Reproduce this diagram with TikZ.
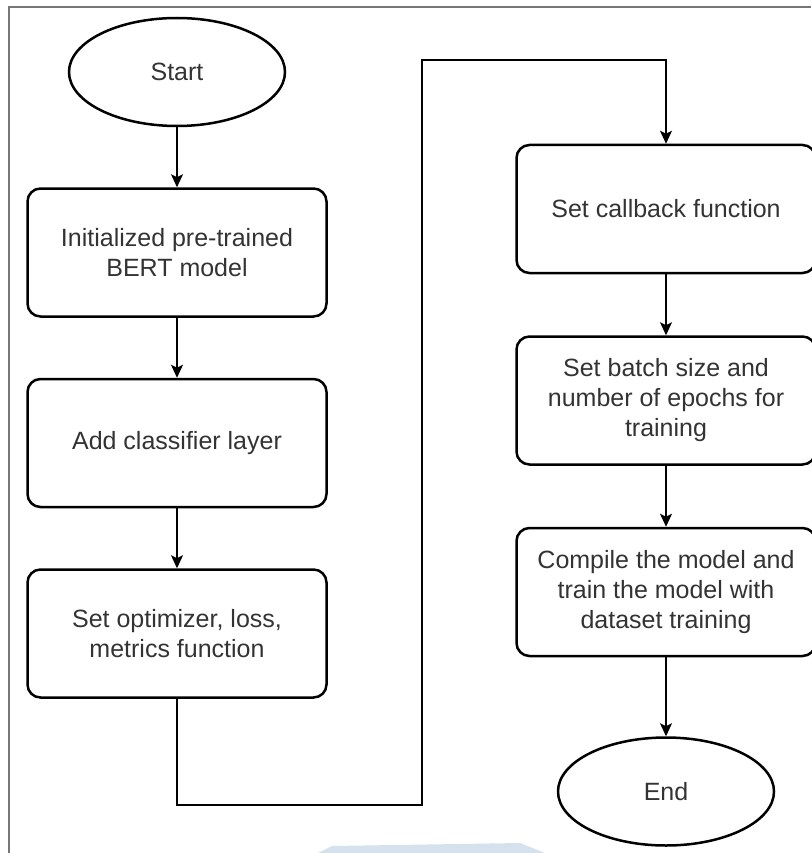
\documentclass[tikz,border=0pt]{standalone}
\usepackage{fontspec}
\setmainfont{Liberation Sans}
\usetikzlibrary{arrows.meta, shapes.geometric, positioning}
\definecolor{txt}{HTML}{333333}
\definecolor{frame}{HTML}{777777}
\definecolor{blob}{HTML}{D6E1EE}

\begin{document}
\begin{tikzpicture}[x=1pt, y=1pt,
        b/.style={draw, line width=2.5pt, rounded corners=13pt, minimum width=299pt, minimum height=128pt,
                  align=center, text=txt, font=\fontsize{25}{30}\selectfont},
        t/.style={b, ellipse, rounded corners=0pt, minimum width=216pt, minimum height=108pt},
        e/.style={-{Stealth[length=13pt, width=12pt, inset=3pt]}, line width=1.3pt}]
        \useasboundingbox (0,0) rectangle (811,-853);
        \draw[frame, line width=1.5pt] (9,-853) -- (9,-7) -- (811,-7);
        \fill[blob] (318,-853) -- (332,-846) -- (520,-843) -- (545,-853) -- cycle;

        \node[t] (s0) at (177,-72) {Start};
        \node[b, below=60pt of s0] (b1) {Initialized pre-trained\\BERT model};
        \node[b, below=60pt of b1] (b2) {Add classifier layer};
        \node[b, below=60pt of b2] (b3) {Set optimizer, loss,\\metrics function};

        \node[b] (c1) at (666,-209) {Set callback function};
        \node[b, below=61pt of c1] (c2) {Set batch size and\\number of epochs for\\training};
        \node[b, below=61pt of c2] (c3) {Compile the model and\\train the model with\\dataset training};
        \node[t, below=79pt of c3] (s1) {End};

        \foreach \a/\b in {s0/b1, b1/b2, b2/b3, c1/c2, c2/c3, c3/s1}
        \draw[e] (\a) -- (\b);

        \coordinate (m1) at (422,-805);
        \coordinate (m2) at (422,-60);
        \draw[e] (b3) |- (m1) -- (m2) -| (c1);
      \end{tikzpicture}
\end{document}
